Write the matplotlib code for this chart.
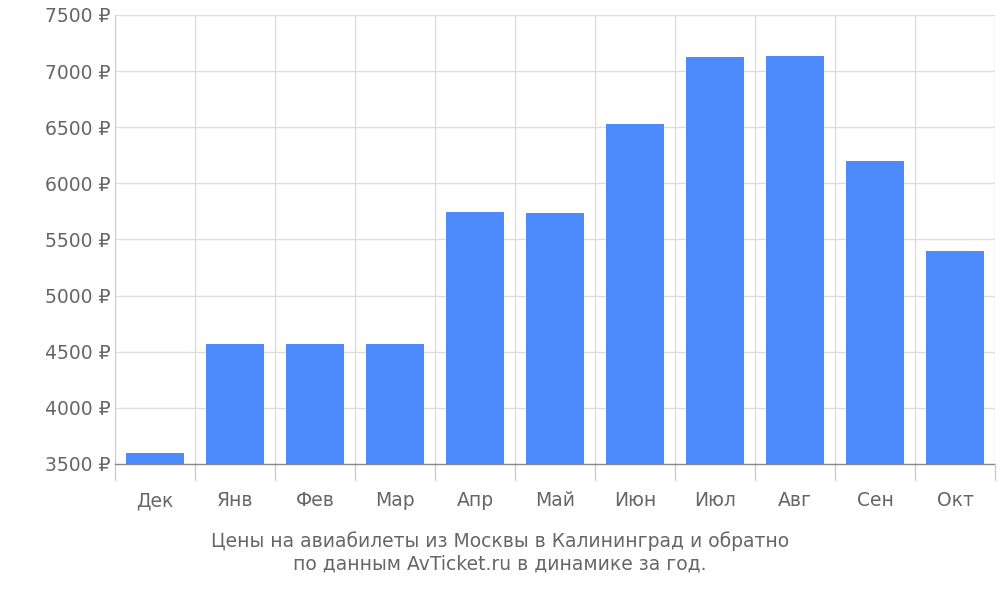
import matplotlib
matplotlib.use("Agg")
import matplotlib.pyplot as plt
import numpy as np

months = ["Дек","Янв","Фев","Мар","Апр","Май","Июн","Июл","Авг","Сен","Окт"]
prices = [3600,4570,4570,4570,5745,5740,6530,7125,7135,6195,5395]
yticks = [3500,4000,4500,5000,5500,6000,6500,7000,7500]

fig = plt.figure(figsize=(10,6), dpi=100)
ax = fig.add_axes([0.115, 0.2, 0.88, 0.775])
x = np.arange(len(months))
base = 3500
ax.bar(x, np.array(prices)-base, bottom=base, width=0.72, color="#4d8afc", zorder=3)
ax.set_xlim(-0.5, len(months)-0.5)
ax.set_ylim(3357, 7500)
ax.set_yticks(yticks)
ax.set_yticklabels([f"{v} ₽" for v in yticks])
ax.set_xticks(x)
ax.set_xticklabels(months)
ax.tick_params(axis='both', length=0, labelsize=13.5, colors="#666666")
ax.tick_params(axis='x', pad=8)
for b in np.arange(-0.5, len(months), 1):
    ax.axvline(b, color="#dddddd", lw=1, zorder=1, ymin=(3500-3357)/(7500-3357))
    ax.plot([b,b],[3357,3500], color="#cccccc", lw=1, zorder=1, clip_on=False)
for v in yticks:
    ax.axhline(v, color="#888888" if v==3500 else "#dddddd", lw=1, zorder=1 if v!=3500 else 4)
for s in ["top","right","bottom"]:
    ax.spines[s].set_visible(False)
ax.spines["left"].set_color("#cccccc")
ax.spines["left"].set_bounds(3500, 7500)
fig.text(0.5, 0.045, "Цены на авиабилеты из Москвы в Калининград и обратно\nпо данным AvTicket.ru в динамике за год.",
         ha="center", va="bottom", fontsize=13.5, color="#666666", linespacing=1.2)
fig.savefig("out.png", dpi=100)
